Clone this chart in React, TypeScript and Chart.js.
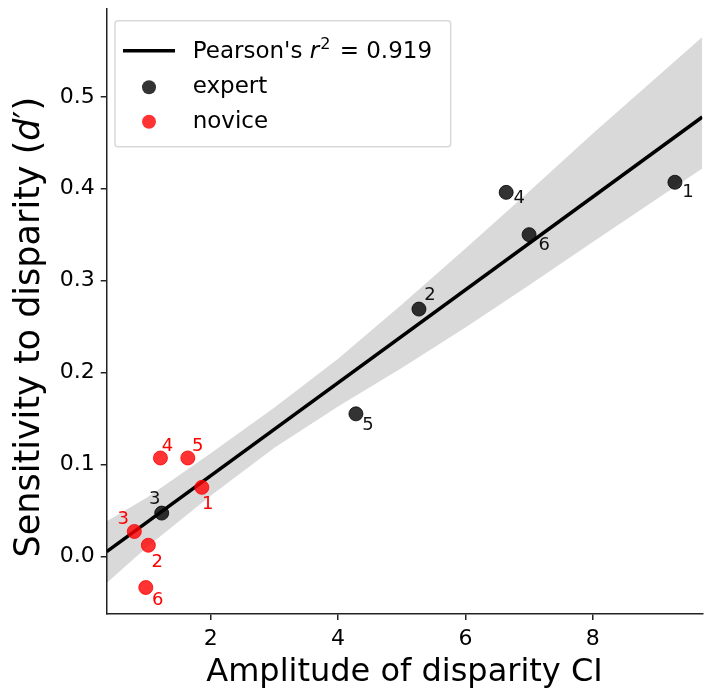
import { useEffect, useRef } from 'react';
import { Chart, registerables } from 'chart.js';

Chart.register(...registerables);

// ---- data ----
const expertIds = ['1', '2', '3', '4', '5', '6'];
const expertX = [9.29, 5.27, 1.23, 6.64, 4.28, 7.0];
const expertY = [0.407, 0.269, 0.047, 0.396, 0.155, 0.35];

const noviceIds = ['1', '2', '3', '4', '5', '6'];
const noviceX = [1.86, 1.02, 0.8, 1.21, 1.64, 0.98];
const noviceY = [0.075, 0.012, 0.027, 0.107, 0.107, -0.034];

// regression line and its confidence band
const fitX = [0.366, 9.72];
const fitY = [0.005, 0.478];
const bandX = [0.366, 1.0, 2.0, 3.0, 4.0, 5.0, 6.0, 7.0, 8.0, 9.72];
const bandHigh = [0.038, 0.064, 0.112, 0.162, 0.215, 0.274, 0.335, 0.397, 0.46, 0.565];
const bandLow = [-0.029, 0.01, 0.066, 0.118, 0.163, 0.205, 0.249, 0.295, 0.342, 0.422];

const xTickValues = [2, 4, 6, 8];
const yTickValues = [0.0, 0.1, 0.2, 0.3, 0.4, 0.5];
const xRange = [0.366, 9.72];
const yRange = [-0.0628, 0.5963];

const rSquared = '0.919';

// label offsets in pixels (style, not data)
const expertLabelDx = [13, 11, -7, 13, 12, 15];
const expertLabelDy = [10, -14, -14, 6, 11, 11];
const noviceLabelDx = [6, 9, -11, 7, 10, 12];
const noviceLabelDy = [17, 17, -12, -12, -12, 13];

const FONT = '"DejaVu Sans", sans-serif';
const EXPERT_COLOR = 'rgba(0,0,0,0.8)';
const NOVICE_COLOR = 'rgba(255,0,0,0.8)';

const overlay = {
  id: 'overlay',
  afterDatasetsDraw(chart: any) {
    const ctx = chart.ctx;
    ctx.save();
    ctx.font = `18px ${FONT}`;
    ctx.textAlign = 'center';
    ctx.textBaseline = 'middle';
    const groups = [
      { idx: 0, ids: expertIds, dx: expertLabelDx, dy: expertLabelDy, color: '#111' },
      { idx: 1, ids: noviceIds, dx: noviceLabelDx, dy: noviceLabelDy, color: '#ff0000' },
    ];
    for (const g of groups) {
      const meta = chart.getDatasetMeta(g.idx);
      ctx.fillStyle = g.color;
      meta.data.forEach((el: any, i: number) => {
        ctx.fillText(g.ids[i], el.x + g.dx[i], el.y + g.dy[i]);
      });
    }
    ctx.restore();
  },
  afterDraw(chart: any) {
    const ctx = chart.ctx;
    const a = chart.chartArea;
    ctx.save();

    // legend box
    const bx = a.left + 8.3;
    const by = a.top + 12.4;
    const bw = 335.7;
    const bh = 126;
    ctx.beginPath();
    (ctx as any).roundRect(bx, by, bw, bh, 3);
    ctx.fillStyle = 'rgba(255,255,255,0.8)';
    ctx.fill();
    ctx.strokeStyle = '#d9d9d9';
    ctx.lineWidth = 1.5;
    ctx.stroke();

    // legend line
    ctx.beginPath();
    ctx.moveTo(a.left + 16.3, a.top + 42.4);
    ctx.lineTo(a.left + 68.3, a.top + 42.4);
    ctx.strokeStyle = '#000';
    ctx.lineWidth = 3.5;
    ctx.stroke();

    // legend markers
    const markers = [
      { y: a.top + 79, c: EXPERT_COLOR },
      { y: a.top + 113.4, c: NOVICE_COLOR },
    ];
    for (const m of markers) {
      ctx.beginPath();
      ctx.arc(a.left + 42.3, m.y, 7, 0, Math.PI * 2);
      ctx.fillStyle = m.c;
      ctx.fill();
    }

    // legend texts
    ctx.fillStyle = '#000';
    ctx.textAlign = 'left';
    ctx.textBaseline = 'alphabetic';
    const tx = a.left + 86;
    let x = tx;
    const y0 = a.top + 50;
    ctx.font = `23px ${FONT}`;
    ctx.fillText("Pearson's ", x, y0);
    x += ctx.measureText("Pearson's ").width;
    ctx.font = `italic 23px ${FONT}`;
    ctx.fillText('r', x, y0);
    x += ctx.measureText('r').width + 1;
    ctx.font = `16px ${FONT}`;
    ctx.fillText('2', x, y0 - 9);
    x += ctx.measureText('2').width + 2;
    ctx.font = `23px ${FONT}`;
    ctx.fillText(' = ' + rSquared, x, y0);
    ctx.fillText('expert', tx, a.top + 85);
    ctx.fillText('novice', tx, a.top + 120);

    // x-axis title
    ctx.font = `32px ${FONT}`;
    ctx.textAlign = 'center';
    ctx.fillText('Amplitude of disparity CI', (a.left + a.right) / 2, 681);

    // y-axis title with italic d'
    ctx.translate(30, (a.top + a.bottom) / 2 + 16);
    ctx.rotate(-Math.PI / 2);
    ctx.textAlign = 'left';
    ctx.textBaseline = 'middle';
    const size = 35;
    const pieces = [
      { t: 'Sensitivity to disparity (', f: `${size}px ${FONT}` },
      { t: 'd', f: `italic ${size}px ${FONT}` },
      { t: '\u2032', f: `${size}px ${FONT}` },
      { t: ')', f: `${size}px ${FONT}` },
    ];
    let total = 0;
    for (const p of pieces) {
      ctx.font = p.f;
      total += ctx.measureText(p.t).width;
    }
    let px = -total / 2;
    for (const p of pieces) {
      ctx.font = p.f;
      ctx.fillText(p.t, px, 0);
      px += ctx.measureText(p.t).width;
    }
    ctx.restore();
  },
};

export default function App() {
  const ref = useRef<HTMLCanvasElement>(null);
  useEffect(() => {
    document.body.style.margin = '0';
    const canvas = ref.current!;
    const axisColor = '#222';
    const chart = new Chart(canvas, {
      type: 'scatter',
      data: {
        datasets: [
          {
            type: 'scatter',
            label: 'expert',
            data: expertX.map((x, i) => ({ x, y: expertY[i] })),
            pointRadius: 7,
            backgroundColor: EXPERT_COLOR,
            borderColor: EXPERT_COLOR,
            borderWidth: 1,
            order: 0,
          },
          {
            type: 'scatter',
            label: 'novice',
            data: noviceX.map((x, i) => ({ x, y: noviceY[i] })),
            pointRadius: 7,
            backgroundColor: NOVICE_COLOR,
            borderColor: NOVICE_COLOR,
            borderWidth: 1,
            order: 0,
          },
          {
            type: 'line',
            label: 'fit',
            data: fitX.map((x, i) => ({ x, y: fitY[i] })),
            borderColor: '#000',
            borderWidth: 3.5,
            pointRadius: 0,
            fill: false,
            order: 1,
          },
          {
            type: 'line',
            label: 'ciHigh',
            data: bandX.map((x, i) => ({ x, y: bandHigh[i] })),
            borderWidth: 0,
            borderColor: 'rgba(0,0,0,0)',
            backgroundColor: 'rgba(0,0,0,0.15)',
            pointRadius: 0,
            fill: '+1',
            tension: 0,
            order: 2,
          },
          {
            type: 'line',
            label: 'ciLow',
            data: bandX.map((x, i) => ({ x, y: bandLow[i] })),
            borderWidth: 0,
            borderColor: 'rgba(0,0,0,0)',
            pointRadius: 0,
            fill: false,
            tension: 0,
            order: 2,
          },
        ] as any,
      },
      options: {
        animation: false,
        responsive: false,
        layout: { autoPadding: false, padding: { top: 8.3, right: 2.7, left: 0, bottom: 0 } },
        plugins: { legend: { display: false }, tooltip: { enabled: false } },
        scales: {
          x: {
            type: 'linear',
            min: xRange[0],
            max: xRange[1],
            afterBuildTicks: (s: any) => {
              s.ticks = xTickValues.map((v) => ({ value: v }));
            },
            afterFit: (s: any) => {
              s.height = 76;
              s.paddingLeft = 0;
              s.paddingRight = 0;
            },
            ticks: {
              font: { family: FONT, size: 22 },
              color: '#000',
              padding: 6,
              callback: (v: any) => String(v),
            },
            grid: { drawOnChartArea: false, tickLength: 6, color: axisColor, lineWidth: 1.5 },
            border: { color: axisColor, width: 1.5 },
          },
          y: {
            type: 'linear',
            min: yRange[0],
            max: yRange[1],
            afterBuildTicks: (s: any) => {
              s.ticks = yTickValues.map((v) => ({ value: v }));
            },
            afterFit: (s: any) => {
              s.width = 106.7;
              s.paddingTop = 0;
              s.paddingBottom = 0;
            },
            ticks: {
              font: { family: FONT, size: 22 },
              color: '#000',
              padding: 6,
              callback: (v: any) => Number(v).toFixed(1),
            },
            grid: { drawOnChartArea: false, tickLength: 6, color: axisColor, lineWidth: 1.5 },
            border: { color: axisColor, width: 1.5 },
          },
        },
      } as any,
      plugins: [overlay],
    });
    return () => chart.destroy();
  }, []);
  return (
    <div style={{ width: 705, height: 690 }}>
      <canvas ref={ref} width={705} height={690} style={{ display: 'block', width: 705, height: 690 }} />
    </div>
  );
}
